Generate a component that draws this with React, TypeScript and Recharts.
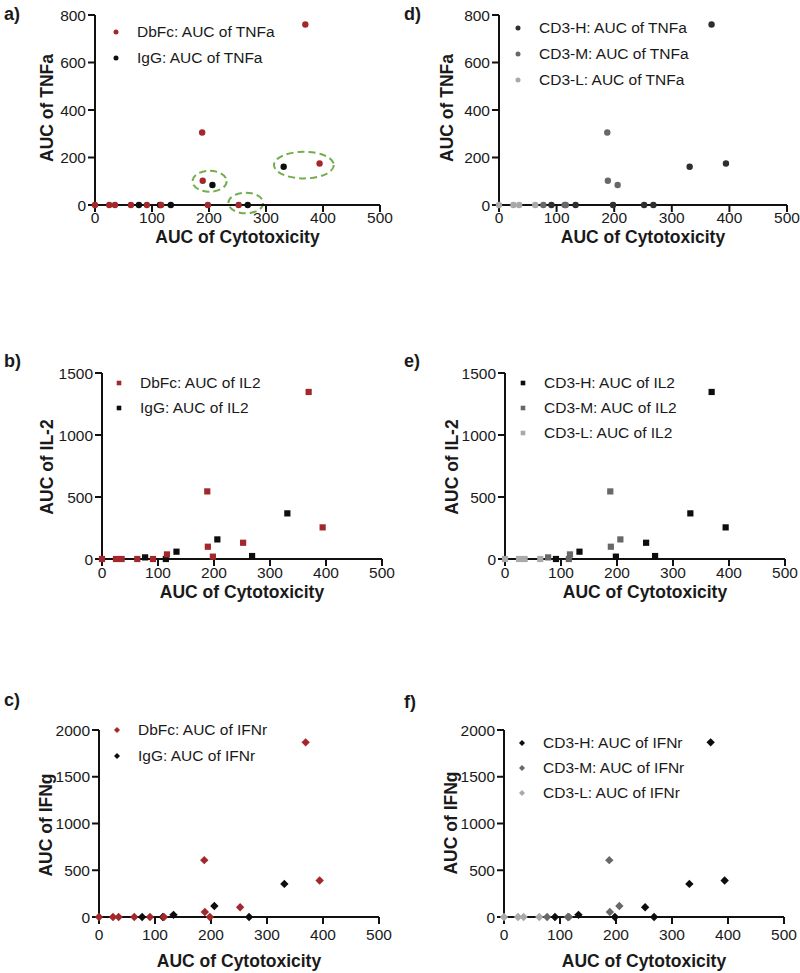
import React from 'react';
import { ScatterChart, Scatter, XAxis, YAxis, Legend, ReferenceArea } from 'recharts';

// one entry per tested condition
const cytotoxicity = [0, 25, 35, 63, 77, 91, 116, 114, 133, 188, 189, 198, 206, 252, 268, 331, 369, 394];
const antibody = ['DbFc', 'DbFc', 'DbFc', 'DbFc', 'IgG', 'DbFc', 'DbFc', 'IgG', 'IgG', 'DbFc', 'DbFc', 'DbFc', 'IgG', 'DbFc', 'IgG', 'IgG', 'DbFc', 'DbFc'];
const cd3Level = ['L', 'L', 'L', 'L', 'M', 'H', 'M', 'M', 'H', 'M', 'M', 'H', 'M', 'H', 'H', 'H', 'H', 'H'];
const tnfaAuc = [0, 0, 0, 0, 0, 0, 0, 0, 0, 305, 102, 0, 84, 0, 0, 161, 760, 175];
const il2Auc = [0, 0, 0, 0, 13, 0, 37, 0, 59, 545, 99, 19, 158, 131, 24, 368, 1347, 255];
const ifngAuc = [0, 0, 0, 0, 0, 0, 0, 0, 23, 608, 54, 0, 118, 104, 0, 354, 1868, 390];

const xTicks = [0, 100, 200, 300, 400, 500];
const tnfaTicks = [0, 200, 400, 600, 800];
const il2Ticks = [0, 500, 1000, 1500];
const ifngTicks = [0, 500, 1000, 1500, 2000];

// dashed green rings on panel a (data units)
const tnfaRings = [
  { x1: 171, x2: 231, y1: 56, y2: 144 },
  { x1: 234, x2: 295, y1: -35, y2: 52 },
  { x1: 314, x2: 419, y1: 112, y2: 224 },
];

const FONT = '"Liberation Sans", Arial, sans-serif';
const RED = '#a3282c';
const INK = '#1a1a1a';

type Kind = 'circle' | 'square' | 'diamond';

function pick(values: number[], groups: string[], key: string) {
  const out: { x: number; y: number }[] = [];
  values.forEach((v, i) => {
    if (groups[i] === key) out.push({ x: cytotoxicity[i], y: v });
  });
  return out;
}

function Marker({ kind, cx, cy, fill, small }: { kind: Kind; cx: number; cy: number; fill: string; small?: boolean }) {
  if (kind === 'circle') return <circle cx={cx} cy={cy} r={small ? 2.5 : 3.2} fill={fill} />;
  if (kind === 'square') {
    const h = small ? 2.3 : 3.1;
    return <rect x={cx - h} y={cy - h} width={h * 2} height={h * 2} fill={fill} />;
  }
  const d = small ? 3 : 4.2;
  return <polygon points={`${cx},${cy - d} ${cx + d},${cy} ${cx},${cy + d} ${cx - d},${cy}`} fill={fill} />;
}

type Series = { name: string; color: string; data: { x: number; y: number }[] };

type PanelProps = {
  letter: string;
  col: number;
  plot: { left: number; right: number; top: number; bottom: number };
  yTicks: number[];
  yTitle: string;
  kind: Kind;
  series: Series[];
  legend: { x: number; y: number; gap: number };
  xTickMargin: number;
  xTitleY: number;
  yTitleX: number;
  yTitleY: number;
  letterY: number;
  rings?: typeof tnfaRings;
};

function Panel(p: PanelProps) {
  const yw = 50;
  const xh = 30;
  const top = p.plot.top - 10;
  const height = p.plot.bottom + 40 - top;
  const margin = { top: 10, left: p.plot.left - p.col - yw, right: p.col + 400 - p.plot.right, bottom: 40 - xh };
  const axisStyle = { stroke: '#111', strokeWidth: 2 };
  const tickStyle = { fill: INK, fontSize: 15.5, fontFamily: FONT };
  const yMax = p.yTicks[p.yTicks.length - 1];

  return (
    <>
      <div style={{ position: 'absolute', left: p.col, top }}>
        <ScatterChart width={400} height={height} margin={margin}>
          <XAxis
            type="number"
            dataKey="x"
            domain={[0, 500]}
            ticks={xTicks}
            interval={0}
            height={xh}
            tickSize={7}
            tickMargin={p.xTickMargin}
            axisLine={axisStyle}
            tickLine={axisStyle}
            tick={tickStyle}
          />
          <YAxis
            type="number"
            dataKey="y"
            domain={[0, yMax]}
            ticks={p.yTicks}
            interval={0}
            width={yw}
            tickSize={7}
            tickMargin={2}
            axisLine={axisStyle}
            tickLine={axisStyle}
            tick={tickStyle}
          />
          {(p.rings || []).map((r, i) => (
            <ReferenceArea
              key={i}
              x1={r.x1}
              x2={r.x2}
              y1={r.y1}
              y2={r.y2}
              ifOverflow="visible"
              shape={(s: any) => (
                <ellipse
                  cx={s.x + s.width / 2}
                  cy={s.y + s.height / 2}
                  rx={Math.abs(s.width) / 2}
                  ry={Math.abs(s.height) / 2}
                  fill="none"
                  stroke="#72ad4e"
                  strokeWidth={2}
                  strokeDasharray="7 4"
                />
              )}
            />
          ))}
          {[...p.series].reverse().map((s) => (
            <Scatter
              key={s.name}
              name={s.name}
              data={s.data}
              fill={s.color}
              isAnimationActive={false}
              shape={(m: any) => <Marker kind={p.kind} cx={m.cx} cy={m.cy} fill={s.color} />}
            />
          ))}
          <Legend
            layout="vertical"
            align="center"
            verticalAlign="middle"
            wrapperStyle={{
              left: p.legend.x - 5 - p.col,
              top: p.legend.y - p.legend.gap / 2 - top,
              width: 'auto',
              height: 'auto',
            }}
            content={() => (
              <div>
                {p.series.map((s) => (
                  <div key={s.name} style={{ display: 'flex', alignItems: 'center', height: p.legend.gap }}>
                    <svg width={10} height={10} style={{ display: 'block' }}>
                      <Marker kind={p.kind} cx={5} cy={5} fill={s.color} small />
                    </svg>
                    <span style={{ marginLeft: 16, fontSize: 15.5, color: INK, whiteSpace: 'nowrap', lineHeight: 1 }}>
                      {s.name}
                    </span>
                  </div>
                ))}
              </div>
            )}
          />
        </ScatterChart>
      </div>
      <div
        style={{
          position: 'absolute',
          left: p.col + 4,
          top: p.letterY,
          transform: 'translateY(-50%)',
          fontWeight: 'bold',
          fontSize: 18,
          lineHeight: 1,
          color: INK,
        }}
      >
        {p.letter}
      </div>
      <div
        style={{
          position: 'absolute',
          left: (p.plot.left + p.plot.right) / 2,
          top: p.xTitleY,
          transform: 'translate(-50%, -50%)',
          fontWeight: 'bold',
          fontSize: 17.5,
          lineHeight: 1,
          whiteSpace: 'nowrap',
          color: INK,
        }}
      >
        AUC of Cytotoxicity
      </div>
      <div
        style={{
          position: 'absolute',
          left: p.yTitleX,
          top: p.yTitleY,
          transform: 'translate(-50%, -50%) rotate(-90deg)',
          fontWeight: 'bold',
          fontSize: 17.5,
          lineHeight: 1,
          whiteSpace: 'nowrap',
          color: INK,
        }}
      >
        {p.yTitle}
      </div>
    </>
  );
}

function abSeries(values: number[], label: string): Series[] {
  return [
    { name: `DbFc: AUC of ${label}`, color: RED, data: pick(values, antibody, 'DbFc') },
    { name: `IgG: AUC of ${label}`, color: '#0d0d0d', data: pick(values, antibody, 'IgG') },
  ];
}

function cd3Series(values: number[], label: string, dark: string): Series[] {
  return [
    { name: `CD3-H: AUC of ${label}`, color: dark, data: pick(values, cd3Level, 'H') },
    { name: `CD3-M: AUC of ${label}`, color: '#686868', data: pick(values, cd3Level, 'M') },
    { name: `CD3-L: AUC of ${label}`, color: '#a9a9a9', data: pick(values, cd3Level, 'L') },
  ];
}

export default function App() {
  return (
    <div
      style={{
        position: 'absolute',
        left: 0,
        top: 0,
        width: 800,
        height: 973,
        background: '#fff',
        overflow: 'hidden',
        fontFamily: FONT,
      }}
    >
      <Panel
        letter="a)"
        col={0}
        plot={{ left: 95, right: 380, top: 15, bottom: 205 }}
        yTicks={tnfaTicks}
        yTitle="AUC of TNFa"
        kind="circle"
        series={abSeries(tnfaAuc, 'TNFa')}
        legend={{ x: 116, y: 32, gap: 26 }}
        xTickMargin={0}
        xTitleY={238}
        yTitleX={48}
        yTitleY={108}
        letterY={14}
        rings={tnfaRings}
      />
      <Panel
        letter="d)"
        col={400}
        plot={{ left: 499, right: 787, top: 15, bottom: 205 }}
        yTicks={tnfaTicks}
        yTitle="AUC of TNFa"
        kind="circle"
        series={cd3Series(tnfaAuc, 'TNFa', '#2e2e2e')}
        legend={{ x: 518, y: 28, gap: 26 }}
        xTickMargin={0}
        xTitleY={238}
        yTitleX={448}
        yTitleY={108}
        letterY={14}
      />
      <Panel
        letter="b)"
        col={0}
        plot={{ left: 102, right: 382, top: 373, bottom: 559 }}
        yTicks={il2Ticks}
        yTitle="AUC of IL-2"
        kind="square"
        series={abSeries(il2Auc, 'IL2')}
        legend={{ x: 119, y: 383, gap: 25 }}
        xTickMargin={1}
        xTitleY={593}
        yTitleX={48}
        yTitleY={467}
        letterY={361}
      />
      <Panel
        letter="e)"
        col={400}
        plot={{ left: 505, right: 785, top: 373, bottom: 559 }}
        yTicks={il2Ticks}
        yTitle="AUC of IL-2"
        kind="square"
        series={cd3Series(il2Auc, 'IL2', '#0d0d0d')}
        legend={{ x: 523, y: 383, gap: 25 }}
        xTickMargin={1}
        xTitleY={593}
        yTitleX={453}
        yTitleY={467}
        letterY={361}
      />
      <Panel
        letter="c)"
        col={0}
        plot={{ left: 99, right: 379, top: 730, bottom: 917 }}
        yTicks={ifngTicks}
        yTitle="AUC of IFNg"
        kind="diamond"
        series={abSeries(ifngAuc, 'IFNr')}
        legend={{ x: 117, y: 730, gap: 26 }}
        xTickMargin={5}
        xTitleY={962}
        yTitleX={47}
        yTitleY={825}
        letterY={700}
      />
      <Panel
        letter="f)"
        col={400}
        plot={{ left: 504, right: 784, top: 730, bottom: 917 }}
        yTicks={ifngTicks}
        yTitle="AUC of IFNg"
        kind="diamond"
        series={cd3Series(ifngAuc, 'IFNr', '#0d0d0d')}
        legend={{ x: 522, y: 743, gap: 25 }}
        xTickMargin={5}
        xTitleY={962}
        yTitleX={452}
        yTitleY={823}
        letterY={702}
      />
    </div>
  );
}
